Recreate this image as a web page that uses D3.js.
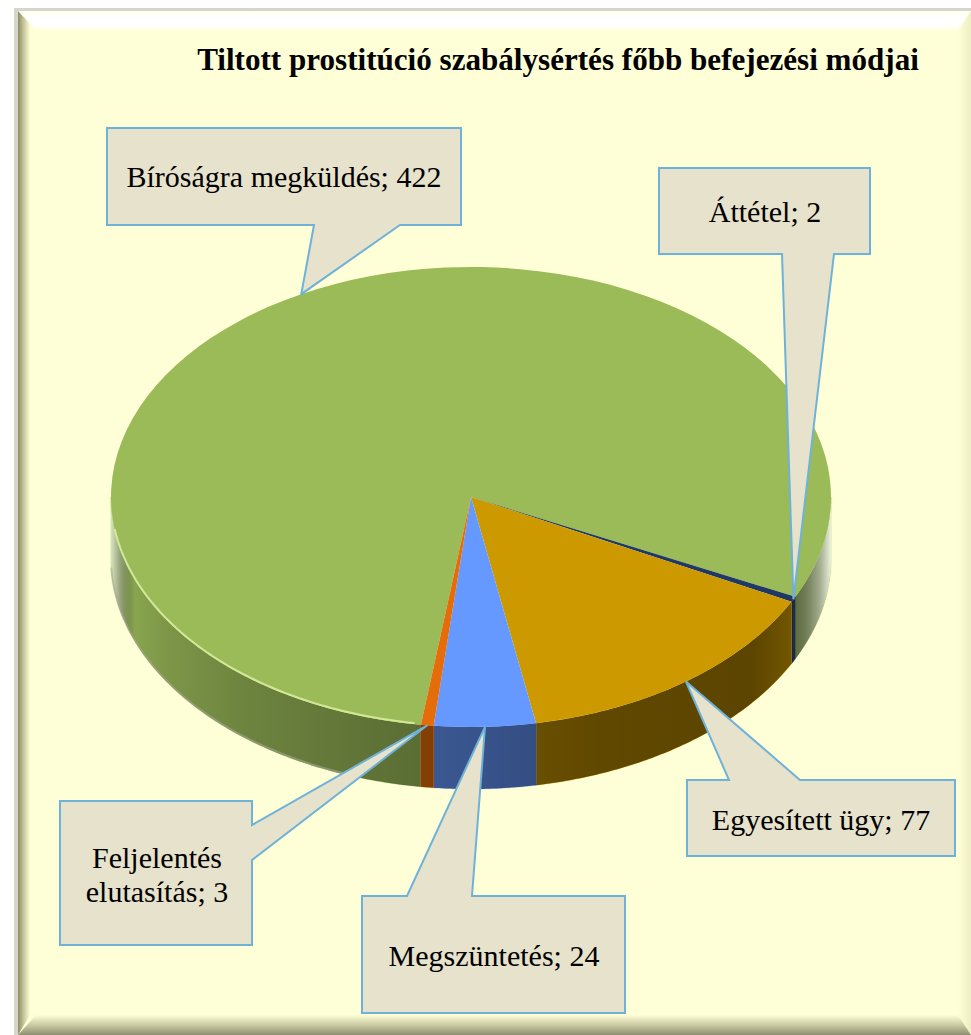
<!DOCTYPE html>
<html><head><meta charset="utf-8">
<script src="https://cdn.jsdelivr.net/npm/d3@7"></script>
<style>html,body{margin:0;padding:0;background:#fff}svg{display:block}</style>
</head><body><svg id="c" width="971" height="1035"></svg>
<script>
const titleText = "Tiltott prostitúció szabálysértés főbb befejezési módjai";
const categories = ["Bíróságra megküldés","Áttétel","Egyesített ügy","Megszüntetés","Feljelentés elutasítás"];
const labelLines = [["Bíróságra megküldés; 422"],["Áttétel; 2"],["Egyesített ügy; 77"],["Megszüntetés; 24"],["Feljelentés","elutasítás; 3"]];
const values = [422,2,77,24,3];
const colors = ["#9BBB59","#1F3864","#CC9900","#6699FF","#E46C0A"];
// callout boxes: x0,y0,x1,y1, then the two base points of the pointer (clockwise order)
const boxes = [[107,128,461,225],[659,168,870,254],[687,780,955,856],[362,896,625,1013],[60,801,252,945]];
const bases = [[[400,225],[314,225]],[[834,254],[782,254]],[[729,780],[800,780]],[[407,896],[472,896]],[[252,825],[252,860]]];
const edges = [2,2,0,0,1];
const textX = [284,765,821,494,157];
const textY = [[187],[222],[830],[966],[868,902]];

const W=971,H=1035,cx=471,cy=497,rx=360,ry=230,depth=62;
const svg=d3.select("#c");
const defs=svg.append("defs");
function grad(id,x1,y1,x2,y2,stops){
  const g=defs.append("linearGradient").attr("id",id).attr("gradientUnits","userSpaceOnUse")
    .attr("x1",x1).attr("y1",y1).attr("x2",x2).attr("y2",y2);
  stops.forEach(s=>g.append("stop").attr("offset",s[0]).attr("stop-color",s[1]).attr("stop-opacity",s[2]===undefined?1:s[2]));
}
const bg="#FFFFD7";
grad("bTop",0,10,0,31,[[0,"#ffffe8"],[.3,"#ffffff"],[.75,"#ffffff"],[1,bg]]);
grad("bLeft",18,0,30,0,[[0,"#8d8d66"],[.45,"#c4c49a"],[1,bg]]);
grad("bRight",958,0,971,0,[[0,bg],[1,"#eeeec4"]]);
grad("bBottom",0,1015,0,1035,[[0,bg],[.45,"#d0d0a8"],[1,"#8f8f72"]]);
grad("shade",cx-rx,0,cx+rx,0,[
 [0,"#ffffff",.6],[.012,"#999999",.6],[.033,"#000000",.12],[.08,"#000000",.2],[.19,"#000000",.3],[.43,"#000000",.42],
 [.68,"#000000",.53],[.89,"#000000",.55],[.94,"#000000",.45],[.965,"#555555",.6],[.985,"#aaaaaa",.7],[1,"#ffffff",.8]]);
defs.append("filter").attr("id","soft").attr("x","-5%").attr("y","-5%").attr("width","110%").attr("height","110%")
  .append("feGaussianBlur").attr("stdDeviation",.7);

// frame
svg.append("rect").attr("x",14).attr("y",8).attr("width",W-14).attr("height",H-8).attr("fill","#d6d6cc");
svg.append("rect").attr("x",18).attr("y",11).attr("width",W-18).attr("height",H-11).attr("fill",bg);
const poly=(pts,f)=>svg.append("polygon").attr("points",pts.join(" ")).attr("fill",f);
poly([[18,11],[971,11],[958,31],[37,31]],"url(#bTop)");
poly([[18,11],[37,31],[30,40],[30,1015],[18,1035]],"url(#bLeft)");
poly([[971,11],[958,31],[958,1015],[971,1035]],"url(#bRight)");
poly([[18,1035],[36,1015],[958,1015],[971,1035]],"url(#bBottom)");

svg.append("text").attr("x",558).attr("y",70).attr("text-anchor","middle")
  .attr("font-family","Liberation Serif").attr("font-weight","bold").attr("font-size",31.1).attr("fill","#000").text(titleText);

// pie
const rad=d=>d*Math.PI/180;
const startA=rad(188);
const pie=d3.pie().sort(null).startAngle(startA).endAngle(startA+2*Math.PI);
const arcs=pie(values);
const pt=(a,dy=0)=>[cx+rx*Math.sin(a),cy-ry*Math.cos(a)+dy];
const lineGen=d3.line();

// side walls (front half of the ellipse only)
const sideG=svg.append("g");
arcs.forEach((d,i)=>{
  [0,2*Math.PI].forEach(off=>{
    const a0=Math.max(d.startAngle-off,Math.PI/2), a1=Math.min(d.endAngle-off,1.5*Math.PI);
    if(a1<=a0) return;
    const as=d3.range(a0,a1,0.01).concat([a1]);
    const p=as.map(a=>pt(a)).concat(as.slice().reverse().map(a=>pt(a,depth)));
    const path=lineGen(p)+"Z";
    sideG.append("path").attr("d",path).attr("fill",colors[i]).attr("stroke",colors[i]).attr("stroke-width",.4);
    sideG.append("path").attr("d",path).attr("fill","url(#shade)");
  });
});
// soft grey outer edge of the green wall
const edgeA=d3.range(rad(200),rad(268),0.01);
svg.append("path").attr("d",lineGen(edgeA.map(a=>pt(a,depth-1)))).attr("fill","none")
  .attr("stroke","#a8a89a").attr("stroke-width",2).attr("opacity",.55).attr("filter","url(#soft)");

// top face
const arcGen=d3.arc().innerRadius(0).outerRadius(rx);
const faceG=svg.append("g").attr("transform",`translate(${cx},${cy}) scale(1,${ry/rx})`);
faceG.selectAll("path").data(arcs).join("path").attr("d",arcGen).attr("fill",(d,i)=>colors[i]);

// rim highlight
const rimA=d3.range(rad(189),rad(262),0.01);
svg.append("path").attr("d",lineGen(rimA.map(a=>pt(a,-1)))).attr("fill","none")
  .attr("stroke","#dcf0a0").attr("stroke-width",2).attr("opacity",.85).attr("filter","url(#soft)");

// callouts
const callouts=svg.append("g");
arcs.forEach((d,i)=>{
  const [x0,y0,x1,y1]=boxes[i], mid=(d.startAngle+d.endAngle)/2, tip=pt(mid), [b0,b1]=bases[i];
  const ring=[[x0,y0],[x1,y0],[x1,y1],[x0,y1]];
  const out=[];
  ring.forEach((p,k)=>{ out.push(p); if(k===edges[i]) out.push(b0,tip,b1); });
  callouts.append("path").attr("d",lineGen(out)+"Z").attr("fill","#E6E2CC").attr("stroke","#6FB2D8").attr("stroke-width",2).attr("stroke-linejoin","miter");
  labelLines[i].forEach((s,k)=>{
    callouts.append("text").attr("x",textX[i]).attr("y",textY[i][k]).attr("text-anchor","middle")
      .attr("font-family","Liberation Serif").attr("font-size",30).attr("fill","#000").text(s);
  });
});
</script></body></html>
